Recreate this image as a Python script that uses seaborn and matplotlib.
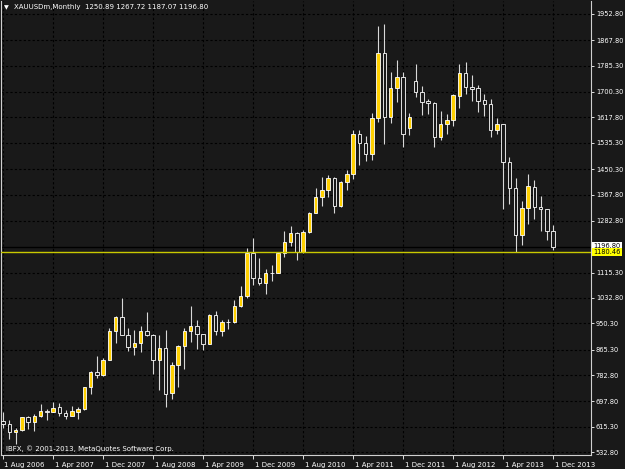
import numpy as np
import pandas as pd
import seaborn as sns
import matplotlib.pyplot as plt
import matplotlib.transforms as mtransforms

# monthly XAUUSD bars, Aug 2006 .. Dec 2013
months = pd.date_range('2006-08-01', '2013-12-01', freq='MS')

opens = [633, 624, 599, 606, 646,
         632, 650, 666, 662, 679, 659, 650, 664, 672, 743, 792, 783,
         832, 926, 972, 914, 874, 887, 926, 914, 831, 870, 725, 815,
         878, 926, 942, 916, 884, 978, 927, 954, 955, 1008, 1040, 1180,
         1097, 1082, 1115, 1113, 1180, 1214, 1243, 1181, 1247, 1307, 1359, 1383,
         1420, 1332, 1409, 1434, 1565, 1535, 1500, 1615, 1827, 1620, 1714, 1748,
         1582, 1735, 1701, 1671, 1665, 1554, 1595, 1608, 1687, 1763, 1717, 1713,
         1674, 1661, 1577, 1598, 1474, 1390, 1238, 1325, 1393, 1326, 1322, 1250.89]
highs = [663, 637, 612, 648, 650,
         657, 690, 672, 695, 691, 671, 682, 679, 744, 795, 846, 839,
         936, 975, 1033, 936, 930, 943, 988, 915, 912, 928, 825, 880,
         935, 1007, 962, 916, 981, 990, 961, 965, 1025, 1070, 1195, 1227,
         1162, 1128, 1138, 1180, 1249, 1265, 1246, 1254, 1310, 1388, 1424, 1431,
         1424, 1411, 1448, 1576, 1577, 1556, 1632, 1913, 1921, 1764, 1803, 1764,
         1632, 1792, 1720, 1677, 1668, 1640, 1629, 1693, 1790, 1796, 1754, 1723,
         1694, 1676, 1616, 1598, 1490, 1423, 1346, 1433, 1415, 1363, 1322, 1267.72]
lows = [612, 575, 560, 603, 609,
        603, 648, 636, 662, 651, 640, 649, 641, 671, 722, 775, 780,
        832, 887, 913, 860, 849, 858, 911, 786, 736, 681, 706, 744,
        802, 890, 866, 865, 883, 913, 908, 932, 953, 1003, 1034, 1075,
        1075, 1045, 1088, 1113, 1164, 1200, 1157, 1177, 1242, 1307, 1330, 1361,
        1308, 1326, 1381, 1419, 1462, 1478, 1480, 1603, 1532, 1600, 1669, 1523,
        1562, 1685, 1625, 1628, 1523, 1544, 1564, 1589, 1647, 1692, 1672, 1636,
        1622, 1555, 1564, 1320, 1337, 1180.46, 1206, 1272, 1290, 1250, 1222, 1187.07]
closes = [624, 599, 604, 646, 632,
          650, 666, 662, 677, 659, 650, 665, 673, 743, 792, 783, 832,
          926, 972, 914, 874, 887, 926, 912, 831, 870, 723, 815, 878,
          926, 942, 916, 884, 978, 927, 954, 955, 1008, 1040, 1180, 1097,
          1082, 1115, 1113, 1180, 1214, 1243, 1181, 1247, 1307, 1359, 1383, 1420,
          1332, 1409, 1434, 1565, 1535, 1500, 1615, 1827, 1620, 1714, 1748, 1564,
          1618, 1701, 1669, 1665, 1554, 1595, 1609, 1689, 1763, 1715, 1709, 1670,
          1661, 1577, 1596, 1474, 1390, 1238, 1325, 1395, 1326, 1322, 1250, 1196.80]

price_ticks = [532.80, 615.30, 697.80, 782.80, 865.30, 950.30, 1032.80, 1115.30,
               1282.80, 1367.80, 1450.30, 1535.30, 1617.80, 1700.30, 1785.30,
               1867.80, 1952.80]
date_tick_labels = ['1 Aug 2006', '1 Apr 2007', '1 Dec 2007', '1 Aug 2008',
                    '1 Apr 2009', '1 Dec 2009', '1 Aug 2010', '1 Apr 2011',
                    '1 Dec 2011', '1 Aug 2012', '1 Apr 2013', '1 Dec 2013']
bid_price = 1196.80
level_line = 1180.46

bg = '#191919'
gold = '#FFD000'
fg = 'white'

sns.set_theme(style='dark', rc={'axes.facecolor': bg, 'figure.facecolor': bg,
                                'savefig.facecolor': bg})
plt.rcParams['font.family'] = ['DejaVu Sans']

df = pd.DataFrame({'month': months, 'open': opens, 'high': highs,
                   'low': lows, 'close': closes})
df['x'] = np.arange(len(df))
up = df['close'] >= df['open']

fig = plt.figure(figsize=(6.25, 4.69), dpi=100)
W, H = 625, 469
ax = fig.add_axes([1 / W, 1 - 455.3 / H, 590 / W, 454.3 / H])

# wicks
ax.vlines(df['x'], df['low'], df['high'], color='#d8d8d8', lw=0.8, zorder=2)
# bodies: gold = up month, hollow = down month
ax.bar(df['x'][up], (df['close'] - df['open'])[up], bottom=df['open'][up],
       width=0.56, color=gold, edgecolor='white', linewidth=0.6, zorder=3)
ax.bar(df['x'][~up], (df['open'] - df['close'])[~up], bottom=df['close'][~up],
       width=0.56, color=bg, edgecolor='white', linewidth=0.6, zorder=3)

ax.axhline(bid_price, color='black', lw=1.0, zorder=1)
ax.axhline(level_line, color='#c8c800', lw=1.0, zorder=4)

ax.set_xlim(-0.32, 94.08)
ax.set_ylim(523.1, 1994.9)

xt = np.arange(0, len(df), 8)
ax.set_xticks(xt)
ax.set_xticklabels(date_tick_labels)
ax.set_yticks(price_ticks)
ax.set_yticklabels([f'{v:.2f}' for v in price_ticks])

ax.grid(True, color='black', linestyle=(0, (2, 2)), lw=0.8)
ax.yaxis.tick_right()
ax.tick_params(axis='y', colors=fg, labelsize=4.8, length=2, width=0.6,
               pad=1.5, direction='out', right=True, left=False)
ax.tick_params(axis='x', colors=fg, labelsize=5, length=3, width=0.6,
               pad=1.5, direction='out', bottom=True)
shift = mtransforms.ScaledTranslation(1.5 / 100, 0, fig.dpi_scale_trans)
for lab in ax.get_xticklabels():
    lab.set_horizontalalignment('left')
    lab.set_transform(lab.get_transform() + shift)

for side in ['left', 'right', 'bottom']:
    ax.spines[side].set_color('#cfcfcf')
    ax.spines[side].set_linewidth(0.8)
ax.spines['top'].set_visible(False)

# price boxes on the right scale
ax.text(1.004, bid_price + 4, f'{bid_price:.2f}', transform=ax.get_yaxis_transform(),
        fontsize=4.8, color='black', va='center', ha='left', clip_on=False,
        bbox=dict(boxstyle='square,pad=0.15', fc='white', ec='none'))
ax.text(1.004, level_line, f'{level_line:.2f}', transform=ax.get_yaxis_transform(),
        fontsize=4.8, color='black', va='center', ha='left', clip_on=False,
        bbox=dict(boxstyle='square,pad=0.15', fc='#FFFF00', ec='none'))

fig.text(4 / W, 1 - 7.5 / H, '▼', color=fg, fontsize=4.5, va='center', ha='left')
fig.text(14 / W, 1 - 7.5 / H, 'XAUUSDm,Monthly  1250.89 1267.72 1187.07 1196.80',
         color=fg, fontsize=5, va='center', ha='left')
fig.text(5.5 / W, 1 - 449 / H, 'IBFX, © 2001-2013, MetaQuotes Software Corp.',
         color=fg, fontsize=5, va='center', ha='left')

fig.savefig('out.png', dpi=100)
